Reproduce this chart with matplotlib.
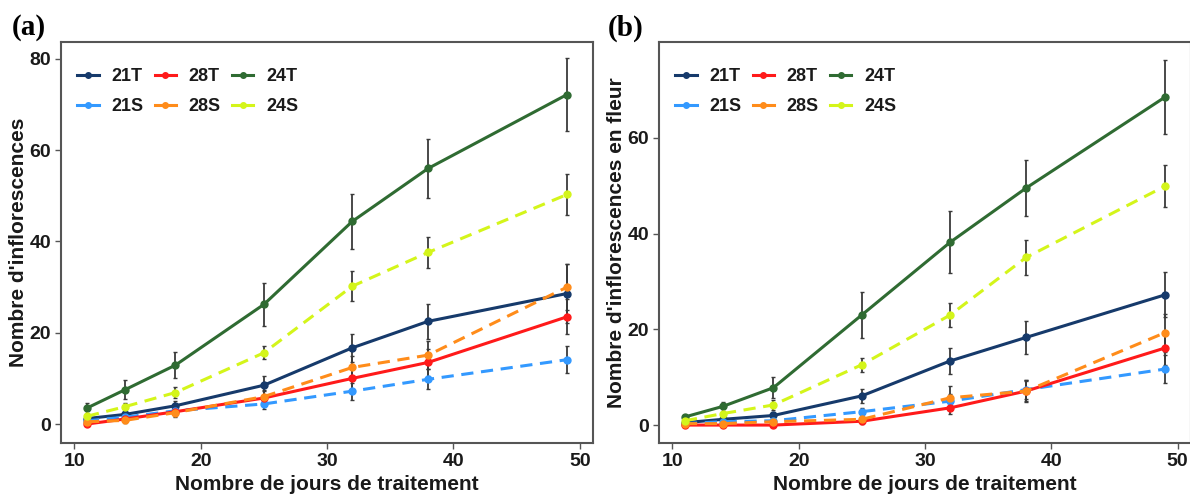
"""Two-panel line chart: inflorescence counts vs. days of treatment."""

import matplotlib
matplotlib.use("Agg")
import matplotlib.pyplot as plt
from matplotlib.lines import Line2D

days = [11, 14, 18, 25, 32, 38, 49]
series_names = ["21T", "21S", "28T", "28S", "24T", "24S"]

# panel (a): Nombre d'inflorescences
a_21T = [1.2, 2.1, 4.0, 8.5, 16.7, 22.5, 28.6]
a_21S = [0.7, 1.5, 2.9, 4.4, 7.2, 9.8, 14.1]
a_28T = [0.0, 1.1, 2.7, 5.7, 10.0, 13.5, 23.5]
a_28S = [0.5, 0.8, 2.5, 6.0, 12.4, 15.1, 30.0]
a_24T = [3.5, 7.5, 12.9, 26.2, 44.4, 56.0, 72.2]
a_24S = [1.7, 3.8, 6.9, 15.6, 30.2, 37.6, 50.3]
a_21T_err = [0.5, 0.7, 1.0, 2.1, 3.0, 3.8, 6.5]
a_21S_err = [0.4, 0.6, 0.9, 1.1, 1.9, 2.2, 2.9]
a_28T_err = [0.3, 0.6, 1.0, 1.5, 2.5, 3.0, 3.8]
a_28S_err = [0.3, 0.6, 1.0, 1.5, 2.5, 3.0, 5.0]
a_24T_err = [1.0, 2.1, 2.9, 4.7, 6.0, 6.5, 8.0]
a_24S_err = [0.6, 0.8, 1.2, 1.4, 3.3, 3.4, 4.4]

# panel (b): Nombre d'inflorescences en fleur
b_21T = [0.5, 1.2, 2.0, 6.1, 13.4, 18.3, 27.2]
b_21S = [0.3, 0.7, 0.9, 2.8, 5.0, 7.4, 11.7]
b_28T = [0.0, 0.0, 0.0, 0.8, 3.6, 7.1, 16.1]
b_28S = [0.3, 0.3, 0.7, 1.2, 5.7, 7.1, 19.3]
b_24T = [1.7, 3.9, 7.8, 23.0, 38.2, 49.5, 68.5]
b_24S = [0.9, 2.4, 4.2, 12.6, 23.0, 35.0, 49.9]
b_21T_err = [0.3, 0.5, 0.7, 1.4, 2.8, 3.5, 4.7]
b_21S_err = [0.2, 0.4, 0.5, 0.8, 1.5, 2.0, 3.0]
b_28T_err = [0.1, 0.1, 0.2, 0.6, 1.3, 2.0, 3.5]
b_28S_err = [0.2, 0.3, 0.5, 0.8, 2.5, 2.3, 4.0]
b_24T_err = [0.5, 1.0, 2.2, 4.8, 6.5, 5.8, 7.7]
b_24S_err = [0.4, 0.6, 1.0, 1.5, 2.5, 3.7, 4.4]

COLORS = {
    "21T": "#163a6b", "21S": "#3399ff",
    "28T": "#ff1a1a", "28S": "#ff8c1a",
    "24T": "#2f6b32", "24S": "#d4f51a",
}
TEXT = "#1a1a1a"
NARROW = ["Liberation Sans Narrow", "Liberation Sans", "DejaVu Sans"]
SANS = ["Liberation Sans", "DejaVu Sans"]


def draw_panel(ax, values, errors, ylim, yticks, ylabel, tag, tag_x):
    # error bars first, then lines on top
    for name in series_names:
        ax.errorbar(days, values[name], yerr=errors[name], fmt="none",
                    ecolor="#3a3a3a", elinewidth=1.3, capsize=1.5,
                    capthick=1.0, zorder=2)
    for name in series_names:
        ls = (0, (4, 2.5)) if name.endswith("S") else "-"
        ax.plot(days, values[name], color=COLORS[name], linestyle=ls,
                linewidth=2.2, marker="o", markersize=5, zorder=3)

    ax.set_xlim(8.95, 51.05)
    ax.set_ylim(*ylim)
    ax.set_xticks([10, 20, 30, 40, 50])
    ax.set_yticks(yticks)
    for lab in ax.get_xticklabels() + ax.get_yticklabels():
        lab.set_family(NARROW)
        lab.set_fontweight("bold")
        lab.set_fontsize(14)
        lab.set_color(TEXT)
    ax.tick_params(length=4, width=1.0, color="#555555", pad=3)
    for sp in ax.spines.values():
        sp.set_color("#555555")
        sp.set_linewidth(1.5)

    ax.set_xlabel("Nombre de jours de traitement", family=SANS,
                  fontweight="bold", fontsize=15, color=TEXT, labelpad=4)
    ax.set_ylabel(ylabel, family=SANS, fontweight="bold", fontsize=15,
                  color=TEXT, labelpad=1)

    handles = [Line2D([0], [0], color=COLORS[n], linewidth=2.2, marker="o",
                      markersize=4) for n in series_names]
    leg = ax.legend(handles, series_names, ncol=3, loc="upper left",
                    bbox_to_anchor=(0.0, 0.975), frameon=False,
                    handlelength=1.2, handletextpad=0.7, columnspacing=0.6,
                    labelspacing=0.7,
                    prop={"family": NARROW, "weight": "bold", "size": 13})
    for t in leg.get_texts():
        t.set_color(TEXT)

    ax.text(tag_x, 1.035, tag, transform=ax.transAxes, family="Liberation Serif",
            fontweight="bold", fontsize=21, color="black", ha="left", va="center")


fig = plt.figure(figsize=(11.9, 4.98), dpi=100)
ax_a = fig.add_axes([0.0513, 0.1104, 0.447, 0.8052])
ax_b = fig.add_axes([0.5538, 0.1104, 0.447, 0.8052])

vals_a = dict(zip(series_names, [a_21T, a_21S, a_28T, a_28S, a_24T, a_24S]))
errs_a = dict(zip(series_names, [a_21T_err, a_21S_err, a_28T_err, a_28S_err,
                                 a_24T_err, a_24S_err]))
vals_b = dict(zip(series_names, [b_21T, b_21S, b_28T, b_28S, b_24T, b_24S]))
errs_b = dict(zip(series_names, [b_21T_err, b_21S_err, b_28T_err, b_28S_err,
                                 b_24T_err, b_24S_err]))

draw_panel(ax_a, vals_a, errs_a, (-4.16, 83.7), [0, 20, 40, 60, 80],
           "Nombre d'inflorescences", "(a)", -0.092)
draw_panel(ax_b, vals_b, errs_b, (-3.75, 80.0), [0, 20, 40, 60],
           "Nombre d'inflorescences en fleur", "(b)", -0.097)

fig.savefig("out.png", dpi=100)
